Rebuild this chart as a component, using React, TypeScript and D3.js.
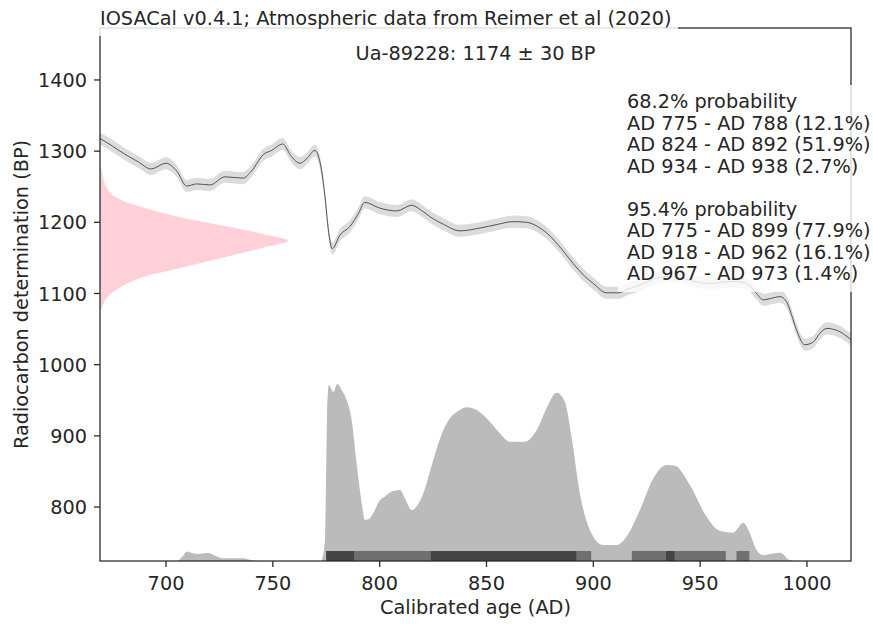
import React from "react";
import * as d3 from "d3";

// calibration curve (IntCal20 section)
const CURVE_YEARS = [669, 675, 680, 687, 693, 700, 705, 709.7, 714.4, 720.6, 727.6, 736, 740, 745.5, 749.4, 754.6, 758.8, 762.7, 766, 769.7, 772.8, 774.4, 776, 777.8, 781.4, 786, 790, 793, 800, 808, 815, 819, 823.5, 830, 837.6, 847, 855, 862.5, 868.8, 874, 878.2, 885, 890.6, 895, 900, 906.2, 911.7, 916, 921.8, 928, 934, 940, 947, 954.7, 960, 965.3, 971.7, 976.4, 979.5, 983, 987.3, 990.4, 993, 995.1, 999, 1003, 1006, 1009.3, 1012, 1015.6, 1019.8, 1021];
const CURVE_BP = [1318, 1307, 1297, 1285, 1275, 1283, 1272, 1251, 1254, 1252.5, 1264, 1262, 1272, 1295, 1301, 1310, 1292, 1283, 1290, 1301, 1273, 1236, 1189, 1163, 1182, 1194, 1212, 1228, 1220, 1216, 1224, 1218, 1208, 1197, 1188, 1192, 1197, 1201, 1200, 1194, 1185, 1163, 1142, 1127, 1114, 1101, 1101, 1106, 1112, 1120, 1124, 1123, 1117, 1114, 1116, 1117, 1114, 1100, 1091, 1093, 1095.6, 1088.5, 1068, 1049, 1028, 1032, 1044, 1051, 1050, 1046, 1037, 1034];
const CURVE_SIGMA = 8.5;

// calibrated probability (relative, max = 100)
const PROB_YEARS = [669, 705, 708, 709.7, 712, 714.4, 719.8, 723, 726.8, 736, 740.8, 745, 772.5, 774.3, 775.5, 776.2, 778.3, 780.2, 782.2, 784.5, 786.9, 789.2, 791.6, 793.1, 794.7, 797, 800.1, 802.4, 805.6, 809.5, 811.8, 815, 816.5, 820.4, 825.1, 829.8, 832.9, 837.6, 840.7, 845.4, 851.6, 856.3, 861, 868, 873.5, 878.1, 882.8, 886.7, 889.8, 893.7, 898.4, 904.6, 910.9, 915.5, 921.8, 928.1, 934.3, 938.2, 945.2, 953, 959.2, 965.5, 970.2, 973.3, 976.4, 979.5, 983, 987.3, 992, 995, 1021];
const PROB_VALUES = [0, 0, 3, 5.3, 4.5, 4, 4.5, 3, 1.5, 1.5, 0.2, 0, 0, 10, 89, 99.4, 95.5, 100, 96.6, 91, 79.7, 55.2, 32.6, 23.2, 23.6, 27, 34.5, 36.3, 39.2, 40.1, 35.4, 28.8, 29.8, 38.2, 57.1, 74, 80.6, 85.3, 86.8, 85.3, 78.7, 72.1, 67.4, 67.4, 74, 86.3, 95.1, 90, 70.2, 38.2, 17.5, 9, 9, 13.7, 28.8, 46.7, 54.2, 53.8, 42.9, 25, 17.1, 16, 21.6, 15.6, 6.2, 3.4, 4, 4.7, 0.5, 0, 0];

// radiocarbon determination 1174 +- 30 BP (relative width)
const DATE_BP = [1279, 1269, 1245, 1231, 1220, 1208, 1194, 1184, 1174, 1164, 1152, 1135, 1124, 1110, 1096, 1077];
const DATE_DENS = [0.004, 0.012, 0.044, 0.115, 0.24, 0.415, 0.68, 0.86, 1.0, 0.86, 0.68, 0.415, 0.24, 0.115, 0.044, 0.008];

const HPD_95 = [[775, 899], [918, 962], [967, 973]];
const HPD_68 = [[775, 788], [824, 892], [934, 938]];

const X_TICKS = [700, 750, 800, 850, 900, 950, 1000];
const Y_TICKS = [800, 900, 1000, 1100, 1200, 1300, 1400];

const TITLE = "IOSACal v0.4.1; Atmospheric data from Reimer et al (2020)";
const SUBTITLE = "Ua-89228: 1174 \u00b1 30 BP";
const RANGE_LINES = [
  "68.2% probability",
  "AD 775 - AD 788 (12.1%)",
  "AD 824 - AD 892 (51.9%)",
  "AD 934 - AD 938 (2.7%)",
  "",
  "95.4% probability",
  "AD 775 - AD 899 (77.9%)",
  "AD 918 - AD 962 (16.1%)",
  "AD 967 - AD 973 (1.4%)",
];

const W = 873, H = 628;
const L = 100, R = 851, T = 28, B = 561;
const FONT = "'DejaVu Sans', sans-serif";
const FS = 19.3;
const INK = "#262626";

export default function App() {
  const x = d3.scaleLinear().domain([669.1, 1020.6]).range([L, R]);
  const y = d3.scaleLinear().domain([724.2, 1473]).range([B, T]);
  const yProb = d3.scaleLinear().domain([0, 100]).range([B, 384]);
  const xDate = d3.scaleLinear().domain([0, 1]).range([L, 288]);

  const curve = CURVE_YEARS.map((yr, i) => ({ yr, bp: CURVE_BP[i] }));
  const band = d3.area<any>()
    .x(d => x(d.yr)).y0(d => y(d.bp - CURVE_SIGMA)).y1(d => y(d.bp + CURVE_SIGMA))
    .curve(d3.curveMonotoneX)(curve);
  const line = d3.line<any>().x(d => x(d.yr)).y(d => y(d.bp)).curve(d3.curveMonotoneX)(curve);

  const prob = PROB_YEARS.map((yr, i) => ({ yr, p: PROB_VALUES[i] }));
  const probArea = d3.area<any>().x(d => x(d.yr)).y0(B).y1(d => yProb(d.p))
    .curve(d3.curveMonotoneX)(prob);

  const dated = DATE_BP.map((bp, i) => ({ bp, d: DATE_DENS[i] }));
  const dateArea = d3.area<any>().y(d => y(d.bp)).x0(L).x1(d => xDate(d.d))
    .curve(d3.curveMonotoneY)(dated);

  const barH = 10;

  return (
    <svg width={W} height={H} style={{ position: "absolute", left: 0, top: 0 }} fontFamily={FONT}>
      <rect width={W} height={H} fill="#fff" />
      <defs>
        <clipPath id="plot"><rect x={L} y={T} width={R - L} height={B - T} /></clipPath>
      </defs>
      <g clipPath="url(#plot)">
        <path d={dateArea || ""} fill="#ffc0cb" fillOpacity={0.75} />
        <path d={band || ""} fill="#dcdcdc" />
        <path d={line || ""} fill="none" stroke="#444" strokeWidth={0.9} />
        <path d={probArea || ""} fill="#bbbbbb" />
        {HPD_95.map(([a, b], i) => (
          <rect key={"h95" + i} x={x(a)} y={B - barH} width={x(b) - x(a)} height={barH} fill="#707070" />
        ))}
        {HPD_68.map(([a, b], i) => (
          <rect key={"h68" + i} x={x(a)} y={B - barH} width={x(b) - x(a)} height={barH} fill="#444444" />
        ))}
      </g>

      {/* spines */}
      <rect x={L} y={T} width={R - L} height={B - T} fill="none" stroke={INK} strokeWidth={1.25} />

      {/* ticks */}
      {X_TICKS.map(t => (
        <g key={"x" + t}>
          <line x1={x(t)} x2={x(t)} y1={B} y2={B + 6} stroke={INK} strokeWidth={1.25} />
          <text x={x(t)} y={590} textAnchor="middle" fontSize={FS} fill={INK}>{t}</text>
        </g>
      ))}
      {Y_TICKS.map(t => (
        <g key={"y" + t}>
          <line x1={L - 6} x2={L} y1={y(t)} y2={y(t)} stroke={INK} strokeWidth={1.25} />
          <text x={L - 13} y={y(t) + 7} textAnchor="end" fontSize={FS} fill={INK}>{t}</text>
        </g>
      ))}
      <text x={(L + R) / 2} y={614} textAnchor="middle" fontSize={FS} fill={INK}>Calibrated age (AD)</text>
      <text transform={`translate(28,${(T + B) / 2}) rotate(-90)`} textAnchor="middle" fontSize={FS} fill={INK}>
        Radiocarbon determination (BP)
      </text>

      {/* annotation box */}
      <rect x={618} y={85} width={237} height={207} fill="#fff" fillOpacity={0.8} />
      {RANGE_LINES.map((s, i) => (
        <text key={"r" + i} x={627} y={108 + i * 21.5} fontSize={FS} fill={INK}>{s}</text>
      ))}

      <text x={(L + R) / 2} y={60} textAnchor="middle" fontSize={FS} fill={INK}>{SUBTITLE}</text>

      {/* title with box */}
      <rect x={96} y={4} width={582} height={32} fill="#fff" fillOpacity={0.85} />
      <text x={L} y={25} fontSize={FS} fill={INK}>{TITLE}</text>
    </svg>
  );
}
